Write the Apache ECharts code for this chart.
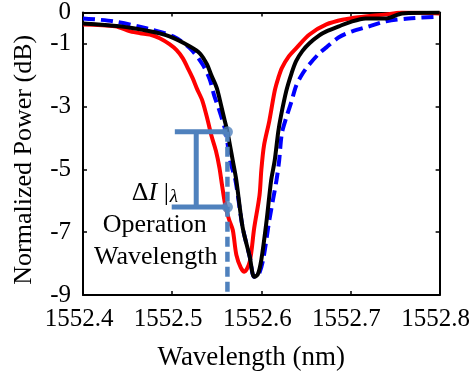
<!DOCTYPE html>
<html><head><meta charset="utf-8">
<script src="https://cdn.jsdelivr.net/npm/echarts@6/dist/echarts.min.js"></script>
<style>html,body{margin:0;padding:0;background:#fff}#c{width:473px;height:379px}</style>
</head><body><div id="c"></div>
<script>
// ---- data ----
const blackWl = [1552.400,1552.441,1552.475,1552.497,1552.520,1552.531,1552.539,1552.544,1552.550,1552.555,1552.559,1552.562,1552.568,1552.572,1552.579,1552.587,1552.592,1552.596,1552.600,1552.606,1552.611,1552.615,1552.619,1552.622,1552.628,1552.634,1552.639,1552.646,1552.654,1552.665,1552.673,1552.687,1552.698,1552.717,1552.740,1552.758,1552.800];
const blackDb = [-0.35,-0.44,-0.60,-0.76,-1.08,-1.30,-1.65,-2.00,-2.40,-2.97,-3.45,-3.80,-4.72,-5.35,-6.84,-7.78,-8.42,-8.35,-7.88,-6.61,-5.35,-4.72,-3.80,-3.30,-2.50,-1.93,-1.55,-1.23,-0.98,-0.73,-0.60,-0.44,-0.32,-0.19,-0.19,-0.03,0.00];

const redWl = [1552.400,1552.436,1552.453,1552.464,1552.475,1552.486,1552.497,1552.505,1552.512,1552.517,1552.523,1552.528,1552.534,1552.540,1552.544,1552.549,1552.553,1552.556,1552.560,1552.564,1552.568,1552.572,1552.577,1552.581,1552.587,1552.592,1552.598,1552.600,1552.603,1552.609,1552.615,1552.619,1552.623,1552.631,1552.639,1552.654,1552.673,1552.693,1552.709,1552.740,1552.758,1552.800];
const redDb = [-0.38,-0.44,-0.60,-0.66,-0.70,-0.82,-1.01,-1.20,-1.46,-1.74,-2.09,-2.44,-2.82,-3.45,-3.92,-4.40,-4.94,-5.51,-6.20,-6.61,-6.93,-7.72,-8.13,-8.26,-7.94,-6.87,-5.82,-5.03,-4.24,-3.45,-2.50,-2.09,-1.77,-1.39,-1.14,-0.70,-0.38,-0.22,-0.15,-0.06,0.00,-0.03];

const blueWl = [1552.400,1552.434,1552.472,1552.501,1552.520,1552.534,1552.542,1552.547,1552.553,1552.560,1552.565,1552.571,1552.579,1552.587,1552.592,1552.597,1552.602,1552.609,1552.617,1552.620,1552.623,1552.628,1552.634,1552.639,1552.646,1552.654,1552.665,1552.673,1552.687,1552.702,1552.721,1552.740,1552.765,1552.800];
const blueDb = [-0.19,-0.28,-0.51,-0.76,-1.14,-1.65,-2.12,-2.63,-3.13,-3.80,-4.72,-5.35,-6.84,-7.78,-8.42,-8.35,-7.88,-6.61,-5.35,-4.72,-3.86,-3.35,-2.82,-2.34,-1.96,-1.65,-1.30,-1.11,-0.79,-0.60,-0.44,-0.28,-0.19,-0.13];

const xTickValues = [1552.4,1552.5,1552.6,1552.7,1552.8];
const yLabelValues = [0,-1,-3,-5,-7,-9];
const yTickValues = [-1,-3,-5,-7];

// annotation values
const opWavelength = 1552.562;
const opUpper = -3.8;
const opLower = -6.2;
const bracketWl = 1552.527;
const upperStartWl = 1552.503;
const lowerStartWl = 1552.4995;
const axisBottom = -9;

const FONT = '"Liberation Serif","Times New Roman",serif';
const zip = (a,b)=>a.map((v,i)=>[v,b[i]]);
const ANN = '#4f81bd';

const chart = echarts.init(document.getElementById('c'), null, {renderer:'canvas'});
const tickStyle = {show:true,inside:true,length:4,lineStyle:{color:'#000',width:1.5}};
const lineStyleAxis = {show:true,onZero:false,lineStyle:{color:'#000',width:2}};
chart.setOption({
  animation:false,
  backgroundColor:'#fff',
  grid:{left:83,right:32,top:11,bottom:84,containLabel:false},
  xAxis:[{
    type:'value', min:1552.4, max:1552.8, interval:0.1, position:'bottom',
    name:'Wavelength (nm)', nameLocation:'middle', nameGap:49,
    nameTextStyle:{fontFamily:FONT,fontSize:27,color:'#000',padding:[0,20,0,0]},
    axisLine:lineStyleAxis,
    axisTick:Object.assign({customValues:xTickValues},tickStyle),
    axisLabel:{show:true,margin:12,fontFamily:FONT,fontSize:25,color:'#000',customValues:xTickValues,padding:[0,8,0,0],formatter:v=>v.toFixed(1)},
    splitLine:{show:false}
  },{
    type:'value', min:1552.4, max:1552.8, interval:0.1, position:'top',
    axisLine:lineStyleAxis,
    axisTick:Object.assign({customValues:xTickValues},tickStyle),
    axisLabel:{show:false}, splitLine:{show:false}
  }],
  yAxis:[{
    type:'value', min:-9, max:0, position:'left',
    name:'Normalized Power (dB)', nameLocation:'middle', nameGap:46,
    nameTextStyle:{fontFamily:FONT,fontSize:26,color:'#000',padding:[0,12,0,0]},
    axisLine:lineStyleAxis,
    axisTick:Object.assign({customValues:yTickValues},tickStyle),
    axisLabel:{show:true,margin:12,fontFamily:FONT,fontSize:25,color:'#000',customValues:yLabelValues,formatter:v=>String(v)},
    splitLine:{show:false}
  },{
    type:'value', min:-9, max:0, position:'right',
    axisLine:lineStyleAxis,
    axisTick:Object.assign({customValues:yTickValues},tickStyle),
    axisLabel:{show:false}, splitLine:{show:false}
  }],
  series:[
    {type:'line',data:zip(redWl,redDb),showSymbol:false,smooth:0.3,lineStyle:{color:'#ff0000',width:4},z:2},
    {type:'line',data:zip(blueWl,blueDb),showSymbol:false,smooth:0.3,lineStyle:{color:'#0000ff',width:4,type:[12,6]},z:3},
    {type:'line',data:zip(blackWl,blackDb),showSymbol:false,smooth:0.3,lineStyle:{color:'#000',width:4},z:4},
    {type:'line',data:[[opWavelength,opUpper],[opWavelength,axisBottom]],showSymbol:false,lineStyle:{color:ANN,width:4.5,type:[10,5]},z:5},
    {type:'line',data:[[upperStartWl,opUpper],[opWavelength,opUpper]],showSymbol:false,lineStyle:{color:ANN,width:5},z:5},
    {type:'line',data:[[lowerStartWl,opLower],[opWavelength,opLower]],showSymbol:false,lineStyle:{color:ANN,width:5},z:5},
    {type:'line',data:[[bracketWl,opUpper],[bracketWl,opLower]],showSymbol:false,lineStyle:{color:ANN,width:5},z:5},
    {type:'scatter',data:[[opWavelength,opUpper],[opWavelength,opLower]],symbolSize:11,itemStyle:{color:ANN},z:6}
  ]
});

const p1 = chart.convertToPixel({gridIndex:0},[1552.4547,-5.76]);
const p2 = chart.convertToPixel({gridIndex:0},[1552.4804,-6.77]);
const p3 = chart.convertToPixel({gridIndex:0},[1552.4816,-7.78]);
chart.setOption({graphic:[
  {type:'text',x:p1[0],y:p1[1],z:10,style:{
    text:'{n|Δ}{i|I}{n| |}{s|λ}',textVerticalAlign:'middle',textAlign:'left',
    rich:{
      n:{fontFamily:FONT,fontSize:26,fill:'#000'},
      i:{fontFamily:FONT,fontSize:26,fontStyle:'italic',fill:'#000'},
      s:{fontFamily:FONT,fontSize:19,fontStyle:'italic',fill:'#000',verticalAlign:'bottom',padding:[0,0,0,1]}
    }}},
  {type:'text',x:p2[0],y:p2[1],z:10,style:{text:'Operation',font:'26px '+FONT,fill:'#000',textAlign:'center',textVerticalAlign:'middle'}},
  {type:'text',x:p3[0],y:p3[1],z:10,style:{text:'Wavelength',font:'26px '+FONT,fill:'#000',textAlign:'center',textVerticalAlign:'middle'}}
]});
</script>
</body></html>
